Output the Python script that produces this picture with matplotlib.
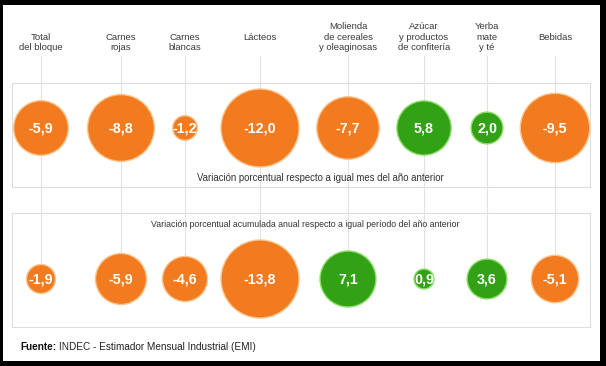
import matplotlib
matplotlib.use("Agg")
import matplotlib.pyplot as plt
from matplotlib.patches import Circle, Rectangle
import numpy as np

plt.rcParams['font.family'] = ['Liberation Sans', 'DejaVu Sans']

# datos (INDEC - EMI)
categorias = ["\nTotal\ndel bloque", "\nCarnes\nrojas", "\nCarnes\nblancas", "\nLácteos\n",
              "Molienda\nde cereales\ny oleaginosas", "Azúcar\ny productos\nde confitería",
              "Yerba\nmate\ny té", "\nBebidas\n"]
var_mensual = [-5.9, -8.8, -1.2, -12.0, -7.7, 5.8, 2.0, -9.5]
var_acumulada = [-1.9, -5.9, -4.6, -13.8, 7.1, 0.9, 3.6, -5.1]
titulo_mensual = "Variación porcentual respecto a igual mes del año anterior"
titulo_acumulada = "Variación porcentual acumulada anual respecto a igual período del año anterior"

# layout (pixeles)
col_x = [41, 121, 185, 260, 348, 424, 487, 555]
fila_y = [128, 279]
r_max = 39
naranja, verde = "#F27B1F", "#32A116"
borde_n, borde_v = "#FBC590", "#8FE06A"

fig = plt.figure(figsize=(6.06, 3.66), dpi=100, facecolor="black")
ax = fig.add_axes([3/606, 5/366, 597/606, 356/366])
ax.set_xlim(3, 600)
ax.set_ylim(361, 5)
ax.axis("off")
ax.add_patch(Rectangle((3, 5), 597, 356, facecolor="white", edgecolor="none", zorder=0))

# recuadros
ax.add_patch(Rectangle((12, 83), 578, 104, fill=False, edgecolor="#dcdcdc", lw=0.8, zorder=1))
ax.add_patch(Rectangle((12, 213), 578, 114, fill=False, edgecolor="#dcdcdc", lw=0.8, zorder=1))

# lineas guia y encabezados
for x, cat in zip(col_x, categorias):
    ax.plot([x, x], [56, fila_y[1]], color="#e2e2e2", lw=0.8, zorder=1)
    ax.text(x, 37, cat, ha="center", va="center", fontsize=6.8, color="#3a3a3a",
            linespacing=1.25)

# burbujas
for fy, valores in zip(fila_y, [var_mensual, var_acumulada]):
    vmax = max(abs(v) for v in valores)
    for x, v in zip(col_x, valores):
        r = r_max * np.sqrt(abs(v) / vmax)
        color = verde if v > 0 else naranja
        borde = borde_v if v > 0 else borde_n
        ax.add_patch(Circle((x, fy), r, facecolor=color, edgecolor=borde, lw=1.0, zorder=3))
        ax.text(x, fy, f"{v:.1f}".replace(".", ","), ha="center", va="center",
                color="white", fontsize=10.3, fontweight="bold", zorder=4)

ax.text(320, 178, titulo_mensual, ha="center", va="center", fontsize=6.9, color="#333333", zorder=5)
ax.text(305, 224, titulo_acumulada, ha="center", va="center", fontsize=6.3, color="#333333", zorder=5)

# fuente
t1 = ax.text(20, 347, "Fuente:", ha="left", va="center", fontsize=7.2, fontweight="bold", color="#111111")
fig.canvas.draw()
bb = t1.get_window_extent()
x_end = ax.transData.inverted().transform((bb.x1, bb.y0))[0]
ax.text(x_end + 3, 347, "INDEC - Estimador Mensual Industrial (EMI)", ha="left", va="center",
        fontsize=7.2, color="#222222")

fig.savefig("out.png", dpi=100, facecolor="black")
